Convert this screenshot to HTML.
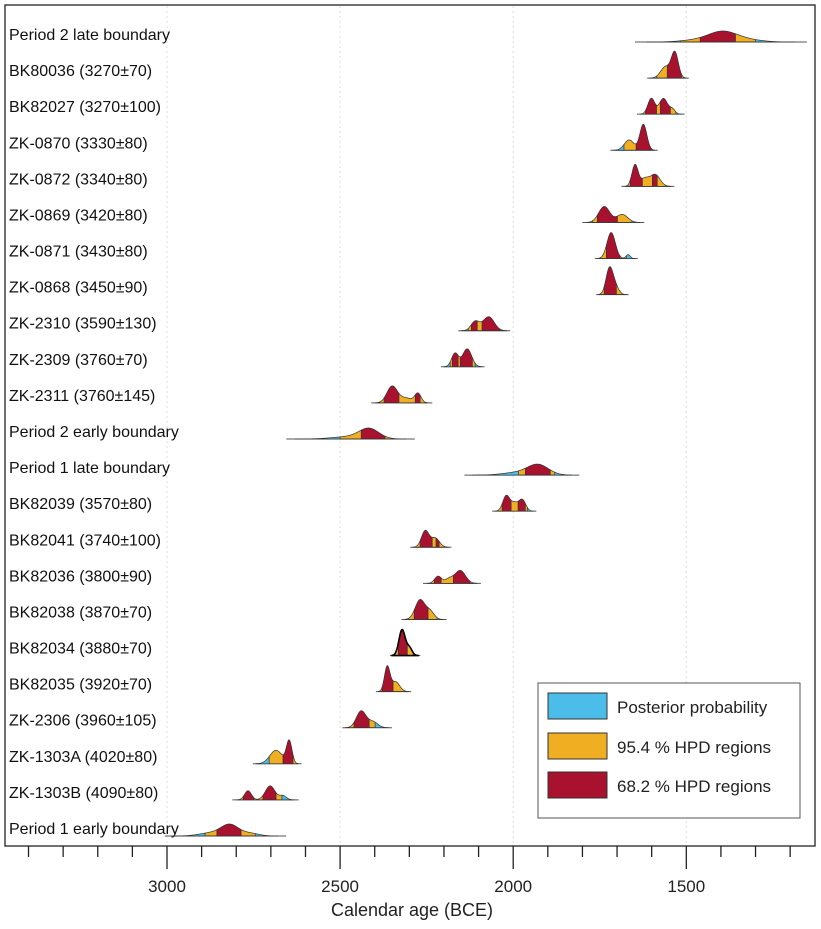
<!DOCTYPE html>
<html><head><meta charset="utf-8"><style>
body{margin:0;background:#fff;font-family:"Liberation Sans",Arial,sans-serif}
svg text{font-family:"Liberation Sans",Arial,sans-serif}
</style></head><body>
<svg id="c" width="821" height="924" xmlns="http://www.w3.org/2000/svg">
<rect x="5" y="5" width="810" height="841" fill="#fff" stroke="#222" stroke-width="1.3"/>
<g id="grid"></g><g id="marks"></g><g id="axis"></g>
<text x="412" y="916" font-size="18" text-anchor="middle" fill="#222">Calendar age (BCE)</text>
<g>
<rect x="538" y="683" width="262" height="135" fill="#fff" stroke="#555" stroke-width="1"/>
<g><rect x="548" y="693" width="59" height="26" fill="#4bbde8" stroke="#333"/><text x="617" y="713" font-size="17" fill="#222">Posterior probability</text></g>
<g><rect x="548" y="733" width="59" height="26" fill="#f0ae22" stroke="#333"/><text x="617" y="753" font-size="17" fill="#222">95.4 % HPD regions</text></g>
<g><rect x="548" y="772" width="59" height="26" fill="#a8122e" stroke="#333"/><text x="617" y="792" font-size="17" fill="#222">68.2 % HPD regions</text></g>
</g>
</svg>
<script>
const labels=["Period 2 late boundary","BK80036 (3270±70)","BK82027 (3270±100)","ZK-0870 (3330±80)","ZK-0872 (3340±80)","ZK-0869 (3420±80)","ZK-0871 (3430±80)","ZK-0868 (3450±90)","ZK-2310 (3590±130)","ZK-2309 (3760±70)","ZK-2311 (3760±145)","Period 2 early boundary","Period 1 late boundary","BK82039 (3570±80)","BK82041 (3740±100)","BK82036 (3800±90)","BK82038 (3870±70)","BK82034 (3880±70)","BK82035 (3920±70)","ZK-2306 (3960±105)","ZK-1303A (4020±80)","ZK-1303B (4090±80)","Period 1 early boundary"];
// mixture components per row: [mean year BCE, sd, weight]
const components=[
[[1396,40,1],[1330,45,0.25],[1470,45,0.2]],
[[1533,10,1],[1560,14,0.45]],
[[1601,10,1],[1566,12,1],[1540,8,0.3]],
[[1624,10,1],[1665,14,0.4]],
[[1648,9,1],[1590,14,0.55],[1620,12,0.35]],
[[1737,16,1],[1685,16,0.5]],
[[1717,12,1],[1668,6,0.15]],
[[1722,10,1],[1705,10,0.3]],
[[2110,12,0.9],[2067,15,1],[2080,15,0.5]],
[[2168,10,0.75],[2133,13,1]],
[[2350,15,1],[2275,9,0.55],[2310,20,0.3]],
[[2416,28,1],[2470,50,0.25]],
[[1928,30,1],[1990,40,0.25]],
[[2020,10,1],[1974,10,0.75],[1997,10,0.5]],
[[2254,11,1],[2225,12,0.55]],
[[2217,10,0.55],[2153,15,1],[2185,12,0.35]],
[[2269,14,1],[2240,12,0.4]],
[[2321,9,1],[2300,8,0.3]],
[[2364,8,1],[2340,12,0.4]],
[[2439,14,1],[2405,14,0.35]],
[[2647,8,1],[2685,18,0.6]],
[[2766,10,0.65],[2702,14,1],[2665,10,0.3]],
[[2818,25,1],[2870,35,0.3],[2760,25,0.25]]];
const peakHeights=[11,27,16,26,22,16,26,28,14,18,17,11,11,16,17,13,20,26,26,17,24,14,12];
const hpd95=[[[1517,1300]],[[1585,1508]],[[1630,1530]],[[1680,1590]],[[1668,1560]],[[1771,1657]],[[1748,1673]],[[1748,1682]],[[2130,2035]],[[2182,2110]],[[2385,2255]],[[2500,2345]],[[1985,1880]],[[2046,1959]],[[2283,2197]],[[2243,2105]],[[2303,2220]],[[2350,2289]],[[2390,2312]],[[2486,2399]],[[2705,2624]],[[2795,2668]],[[2890,2745]]];
const hpd68=[[[1460,1358]],[[1555,1514]],[[1618,1586],[1575,1546]],[[1645,1601]],[[1662,1627],[1598,1584]],[[1757,1699]],[[1731,1691]],[[1737,1702]],[[2121,2104],[2090,2038]],[[2176,2159],[2153,2118]],[[2373,2330],[2283,2269]],[[2439,2370]],[[1965,1893]],[[2032,2006],[1986,1965]],[[2269,2234],[2223,2214]],[[2228,2208],[2173,2124]],[[2286,2246]],[[2332,2306]],[[2379,2347]],[[2460,2416]],[[2665,2636]],[[2780,2749],[2723,2685]],[[2856,2786]]];
const majorTicks=[3000,2500,2000,1500];
const minorTicks=[3400,3300,3200,3100,3000,2900,2800,2700,2600,2500,2400,2300,2200,2100,2000,1900,1800,1700,1600,1500,1400,1300,1200];
const NS="http://www.w3.org/2000/svg";
const X=y=>167+(3000-y)*0.3462;
const rowY=i=>40+i*36.09;
function el(t,a,p){const e=document.createElementNS(NS,t);for(const k in a)e.setAttribute(k,a[k]);p.appendChild(e);return e;}
const svg=document.getElementById('c'),grid=document.getElementById('grid'),marks=document.getElementById('marks'),axis=document.getElementById('axis');
majorTicks.forEach(t=>{const l=el('line',{x1:X(t),x2:X(t),y1:6,y2:845,stroke:'#ddd','stroke-dasharray':'2,3'},grid);

});
minorTicks.forEach(t=>{const maj=majorTicks.includes(t);const l=el('line',{x1:X(t),x2:X(t),y1:846,y2:maj?869:857,stroke:'#222','stroke-width':1.3},axis);

});
majorTicks.forEach(t=>{const tx=el('text',{x:X(t),y:892,'font-size':17,'text-anchor':'middle',fill:'#222'},axis);tx.textContent=t;

});
const defs=el('defs',{},svg);
labels.forEach((lab,i)=>{
 const g=el('g',{},marks);
 
 
 const tx=el('text',{x:9,y:rowY(i),'font-size':16,fill:'#111'},g);tx.textContent=lab;
 
 
 const comps=components[i];
 let lo=Infinity,hi=-Infinity;comps.forEach(c=>{lo=Math.min(lo,c[0]-3.2*c[1]);hi=Math.max(hi,c[0]+3.2*c[1]);});
 const f=y=>comps.reduce((s,c)=>s+c[2]*Math.exp(-0.5*((y-c[0])/c[1])**2),0);
 let mx=0;const pts=[];for(let y=hi;y>=lo;y-=0.5){const v=f(y);pts.push([y,v]);mx=Math.max(mx,v);}
 const b=rowY(i)+2,h=peakHeights[i];
 let d='M'+X(pts[0][0])+','+b;pts.forEach(p=>d+='L'+X(p[0]).toFixed(2)+','+(b-p[1]/mx*h).toFixed(2));d+='L'+X(pts[pts.length-1][0])+','+b+'Z';
 const span=hi-lo;
 const base=el('line',{x1:X(hi+span*0.08),x2:X(lo-span*0.08),y1:b,y2:b,stroke:'#555','stroke-width':1},g);
 
 
 const cp=el('clipPath',{id:'cp'+i},defs);el('path',{d:d},cp);
 const area=el('path',{d:d,fill:'#4bbde8'},g);
 
 
 [[hpd95[i],'#f0ae22','hpd95-region'],[hpd68[i],'#a8122e','hpd68-region']].forEach(([ivs,col,nm])=>{
  ivs.forEach(iv=>{const r=el('rect',{x:X(iv[0]),y:b-h-3,width:X(iv[1])-X(iv[0]),height:h+3,fill:col,stroke:'#333','stroke-width':0.7,'clip-path':'url(#cp'+i+')'},g);
  
  });
 });
 const ol=el('path',{d:d,fill:'none',stroke:i==17?'#000':'#333','stroke-width':i==17?1.6:0.7},g);
 
 
});
</script>
</body></html>
